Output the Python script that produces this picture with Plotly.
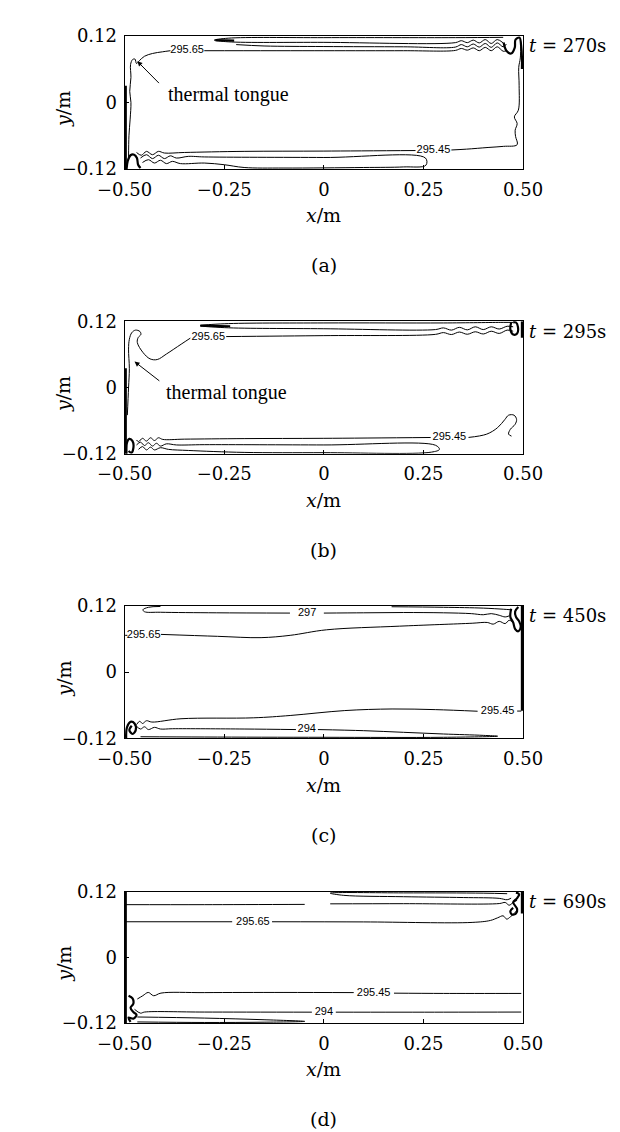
import plotly.graph_objects as go

# ---------------- data ----------------
PANEL_TIMES = ["270s", "295s", "450s", "690s"]
PANEL_CAPTIONS = ["(a)", "(b)", "(c)", "(d)"]
X_TICK_VALUES = [-0.5, -0.25, 0, 0.25, 0.5]
X_TICK_LABELS = ["\u22120.50", "\u22120.25", "0", "0.25", "0.50"]
Y_TICK_VALUES = [-0.12, 0, 0.12]
Y_TICK_LABELS = ["\u22120.12", "0", "0.12"]
X_RANGE = [-0.5, 0.5]
Y_RANGE = [-0.12, 0.12]

# ---- panel (a) t = 270 s ----
A_L1_X = [-0.49, -0.489, -0.486, -0.484, -0.487, -0.484, -0.485, -0.48, -0.474, -0.47, -0.463, -0.45, -0.43, -0.405, -0.385,
          None, -0.300, 0.0, 0.2, 0.33, 0.345, 0.36, 0.375, 0.39, 0.405, 0.42, 0.435, 0.45, 0.458]
A_L1_Y = [-0.10, -0.06, -0.03, 0.0, 0.02, 0.045, 0.068, 0.077, 0.078, 0.07, 0.075, 0.083, 0.088, 0.091, 0.093,
          None, 0.093, 0.093, 0.093, 0.0935, 0.097, 0.094, 0.098, 0.093, 0.099, 0.093, 0.1, 0.092, 0.093]
A_L2_X = [-0.22, -0.15, 0.0, 0.2, 0.33, 0.345, 0.36, 0.375, 0.39, 0.405, 0.42, 0.435, 0.45, 0.458]
A_L2_Y = [0.104, 0.1015, 0.1005, 0.1, 0.0995, 0.104, 0.1, 0.105, 0.0995, 0.106, 0.099, 0.107, 0.1, 0.105]
A_L3_X = [0.45, 0.33, 0.0, -0.24, -0.275, -0.24, 0.0, 0.33, 0.345, 0.36, 0.375, 0.39, 0.405, 0.42, 0.435, 0.45]
A_L3_Y = [0.117, 0.1165, 0.1165, 0.1155, 0.112, 0.109, 0.108, 0.1075, 0.111, 0.1075, 0.112, 0.107, 0.113, 0.106, 0.113, 0.107]
A_L4_X = [0.494, 0.493, 0.489, 0.49, 0.488, 0.478, 0.485, 0.48, 0.481, 0.485, 0.451, 0.412, 0.358, 0.32,
          None, 0.23, 0.0, -0.2, -0.35, -0.4, -0.415, -0.43, -0.445, -0.458, -0.47]
A_L4_Y = [0.11, 0.08, 0.063, 0.03, -0.014, -0.026, -0.038, -0.05, -0.061, -0.076, -0.079, -0.081, -0.084, -0.0855,
          None, -0.0865, -0.0875, -0.088, -0.09, -0.091, -0.088, -0.094, -0.088, -0.095, -0.09]
A_L5_X = [-0.46, -0.445, -0.43, -0.415, -0.4, -0.385, -0.37, -0.34, -0.3, 0.0, 0.255, 0.256, 0.2, 0.1, -0.1, -0.2,
          -0.25, -0.3, -0.36, -0.38, -0.395, -0.41, -0.425, -0.44, -0.455]
A_L5_Y = [-0.1, -0.094, -0.101, -0.095, -0.101, -0.096, -0.1, -0.097, -0.098, -0.099, -0.1, -0.113, -0.116, -0.117,
          -0.118, -0.117, -0.112, -0.109, -0.11, -0.106, -0.11, -0.104, -0.109, -0.103, -0.108]
A_K1_X = [-0.272, -0.225]
A_K1_Y = [0.112, 0.111]
A_K2_X = [0.451, 0.458, 0.47, 0.479, 0.481, 0.491, 0.495, 0.497, 0.497]
A_K2_Y = [0.1076, 0.093, 0.088, 0.0987, 0.113, 0.1165, 0.102, 0.081, 0.06]
A_K3_X = [-0.497, -0.497]
A_K3_Y = [-0.12, 0.03]
A_K4_X = [-0.495, -0.492, -0.485, -0.476, -0.469, -0.466, -0.46]
A_K4_Y = [-0.12, -0.105, -0.095, -0.094, -0.1, -0.112, -0.118]
A_LABEL_TEXT = ["295.65", "295.45"]
A_LABEL_X = [-0.343, 0.275]
A_LABEL_Y = [0.093, -0.086]

# ---- panel (b) t = 295 s ----
B_L1_X = [-0.493, -0.49, -0.488, -0.49, -0.488, -0.482, -0.4726, -0.4616, -0.459, -0.466, -0.468, -0.454, -0.436, -0.418,
          -0.395, -0.358, -0.335, None, -0.245, 0.0, 0.28, 0.3, 0.32, 0.34, 0.36, 0.38, 0.4, 0.42, 0.44, 0.46, 0.475]
B_L1_Y = [-0.05, 0.0, 0.034, 0.0696, 0.0874, 0.0993, 0.104, 0.1016, 0.0963, 0.0904, 0.0815, 0.0637, 0.0519, 0.0507,
          0.0607, 0.0785, 0.0895, None, 0.0923, 0.094, 0.0963, 0.0995, 0.096, 0.1005, 0.0965, 0.101, 0.097, 0.102, 0.098, 0.104, 0.102]
B_L2_X = [0.475, 0.45, 0.3, 0.0, -0.25, -0.31, -0.25, 0.0, 0.28, 0.3, 0.32, 0.34, 0.36, 0.38, 0.4, 0.42, 0.44, 0.46, 0.475]
B_L2_Y = [0.118, 0.118, 0.117, 0.117, 0.1155, 0.112, 0.1085, 0.1065, 0.105, 0.108, 0.104, 0.109, 0.1045, 0.11, 0.105, 0.11, 0.106, 0.111, 0.11]
B_L3_X = [0.4708, 0.4635, 0.468, 0.4799, 0.4836, 0.4772, 0.4635, 0.4543, 0.436, 0.4087, 0.363,
          None, 0.268, 0.0, -0.2, -0.35, -0.404, -0.415, -0.425, -0.435, -0.445, -0.455, -0.465, -0.47]
B_L3_Y = [-0.088, -0.0844, -0.0756, -0.0667, -0.0578, -0.0501, -0.0501, -0.0578, -0.0726, -0.0844, -0.0904,
          None, -0.0905, -0.092, -0.0925, -0.0935, -0.094, -0.091, -0.096, -0.091, -0.097, -0.092, -0.098, -0.095]
B_L4_X = [-0.47, -0.46, -0.45, -0.44, -0.43, -0.42, -0.41, -0.395, -0.37, -0.3, 0.0, 0.28, 0.29, 0.27, 0.0, -0.2,
          -0.34, -0.39, -0.41, -0.425, -0.435, -0.445, -0.455, -0.465]
B_L4_Y = [-0.104, -0.099, -0.105, -0.1, -0.106, -0.101, -0.106, -0.102, -0.104, -0.1035, -0.104, -0.1045, -0.112,
          -0.117, -0.118, -0.1175, -0.114, -0.112, -0.109, -0.113, -0.108, -0.113, -0.107, -0.112]
B_K1_X = [-0.31, -0.235]
B_K1_Y = [0.112, 0.111]
B_K2_X = [0.47, 0.468, 0.475, 0.485, 0.487, 0.482, 0.475]
B_K2_Y = [0.118, 0.105, 0.096, 0.098, 0.11, 0.118, 0.118]
B_K3_X = [0.497, 0.497]
B_K3_Y = [0.12, 0.09]
B_K4_X = [-0.497, -0.497]
B_K4_Y = [-0.12, 0.035]
B_K5_X = [-0.495, -0.494, -0.488, -0.48, -0.478, -0.483, -0.49]
B_K5_Y = [-0.12, -0.1, -0.093, -0.097, -0.11, -0.118, -0.115]
B_LABEL_TEXT = ["295.65", "295.45"]
B_LABEL_X = [-0.29, 0.315]
B_LABEL_Y = [0.0904, -0.0904]

# ---- panel (c) t = 450 s ----
C_L1_X = [-0.41, -0.44, -0.454, -0.45, -0.41, -0.27, -0.085, None, 0.0, 0.1, 0.2, 0.3, 0.37, 0.4, 0.42, 0.44, 0.455, 0.465]
C_L1_Y = [0.119, 0.1175, 0.113, 0.1095, 0.1085, 0.1075, 0.107, None, 0.107, 0.1075, 0.108, 0.1075, 0.106, 0.104, 0.106, 0.103, 0.1, 0.102]
C_L2_X = [0.17, 0.3, 0.4, 0.45, 0.47]
C_L2_Y = [0.1185, 0.1175, 0.116, 0.114, 0.113]
C_L3_X = [-0.4985, -0.493, None, -0.4087, -0.267, -0.1575, -0.0845, 0.0068, 0.1895, 0.3721, 0.41, 0.425, 0.44, 0.455, 0.465, 0.475]
C_L3_Y = [0.0667, 0.0667, None, 0.0684, 0.0649, 0.0625, 0.0667, 0.0767, 0.0833, 0.0886, 0.09, 0.087, 0.092, 0.088, 0.094, 0.09]
C_L4_X = [0.4954, 0.485, None, 0.3858, 0.2808, 0.1712, 0.0525, -0.0845, -0.1758, -0.3584, -0.4315, -0.445, -0.455, -0.462, -0.47]
C_L4_Y = [-0.0705, -0.0705, None, -0.0708, -0.0679, -0.0667, -0.0696, -0.0785, -0.0827, -0.0844, -0.0904, -0.088, -0.093, -0.089, -0.095]
C_L5_X = [-0.47, -0.46, -0.45, -0.44, -0.425, -0.41, -0.38, -0.2, -0.07, None, -0.015, 0.1, 0.2, 0.3, 0.4, 0.436, 0.3, 0.0, -0.3, -0.46]
C_L5_Y = [-0.098, -0.103, -0.099, -0.104, -0.1, -0.103, -0.1025, -0.103, -0.104, None, -0.104, -0.106, -0.109, -0.112, -0.1145,
          -0.116, -0.118, -0.118, -0.1175, -0.117]
C_K1_X = [0.497, 0.497]
C_K1_Y = [0.12, -0.07]
C_K2_X = [0.47, 0.468, 0.475, 0.48, 0.488, 0.494, 0.49, 0.482, 0.48, 0.488]
C_K2_Y = [0.115, 0.1, 0.09, 0.078, 0.074, 0.082, 0.092, 0.1, 0.11, 0.118]
C_K3_X = [-0.496, -0.494, -0.485, -0.475, -0.472, -0.48, -0.488, -0.482]
C_K3_Y = [-0.12, -0.1, -0.09, -0.093, -0.105, -0.112, -0.105, -0.097]
C_LABEL_TEXT = ["297", "295.65", "295.45", "294"]
C_LABEL_X = [-0.042, -0.452, 0.436, -0.043]
C_LABEL_Y = [0.107, 0.0667, -0.0708, -0.104]

# ---- panel (d) t = 690 s ----
D_L1_X = [-0.497, -0.3, -0.048, None, 0.016, 0.2, 0.44, 0.455, 0.465, 0.475, 0.485]
D_L1_Y = [0.096, 0.096, 0.0965, None, 0.0975, 0.0978, 0.098, 0.1, 0.095, 0.1, 0.104]
D_L2_X = [0.46, 0.4, 0.2, 0.016, 0.05, 0.2, 0.35, 0.44, 0.46, 0.47]
D_L2_Y = [0.116, 0.117, 0.1175, 0.117, 0.113, 0.1105, 0.109, 0.1075, 0.105, 0.108]
D_L3_X = [-0.497, -0.23, None, -0.13, 0.1, 0.372, 0.418, 0.436, 0.4498, 0.4589, 0.468, 0.4772, 0.485]
D_L3_Y = [0.0648, 0.0648, None, 0.0648, 0.0645, 0.0636, 0.0672, 0.072, 0.0756, 0.0696, 0.0738, 0.0798, 0.086]
D_L4_X = [0.4954, 0.3, 0.176, None, 0.075, -0.1, -0.3, -0.4087, -0.427, -0.4406, -0.4543, -0.468]
D_L4_Y = [-0.066, -0.066, -0.0655, None, -0.0645, -0.0642, -0.0645, -0.0654, -0.0702, -0.0642, -0.0702, -0.0762]
D_L5_X = [-0.475, -0.46, -0.45, -0.3, -0.03, None, 0.03, 0.3, 0.4954]
D_L5_Y = [-0.095, -0.102, -0.1, -0.1, -0.1002, None, -0.1002, -0.1002, -0.1]
D_L6_X = [-0.468, -0.3, -0.15, -0.048, -0.15, -0.3, -0.468]
D_L6_Y = [-0.109, -0.111, -0.114, -0.117, -0.1185, -0.119, -0.118]
D_K1_X = [-0.497, -0.497]
D_K1_Y = [-0.12, 0.12]
D_K2_X = [0.475, 0.468, 0.472, 0.482, 0.485, 0.48, 0.475, 0.485, 0.49, 0.482]
D_K2_Y = [0.09, 0.084, 0.078, 0.08, 0.088, 0.094, 0.1, 0.108, 0.115, 0.118]
D_K3_X = [-0.49, -0.48, -0.478, -0.485, -0.478, -0.47, -0.478, -0.49, -0.485]
D_K3_Y = [-0.07, -0.075, -0.085, -0.092, -0.1, -0.105, -0.112, -0.11, -0.118]
D_K4_X = [0.497, 0.497]
D_K4_Y = [0.12, 0.08]
D_LABEL_TEXT = ["295.65", "295.45", "294"]
D_LABEL_X = [-0.178, 0.125, 0.0]
D_LABEL_Y = [0.0648, -0.0654, -0.1002]

PANELS = [
    dict(thin=[(A_L1_X, A_L1_Y), (A_L2_X, A_L2_Y), (A_L3_X, A_L3_Y), (A_L4_X, A_L4_Y), (A_L5_X, A_L5_Y)],
         thick=[(A_K1_X, A_K1_Y), (A_K2_X, A_K2_Y), (A_K3_X, A_K3_Y), (A_K4_X, A_K4_Y)],
         labels=(A_LABEL_TEXT, A_LABEL_X, A_LABEL_Y)),
    dict(thin=[(B_L1_X, B_L1_Y), (B_L2_X, B_L2_Y), (B_L3_X, B_L3_Y), (B_L4_X, B_L4_Y)],
         thick=[(B_K1_X, B_K1_Y), (B_K2_X, B_K2_Y), (B_K3_X, B_K3_Y), (B_K4_X, B_K4_Y), (B_K5_X, B_K5_Y)],
         labels=(B_LABEL_TEXT, B_LABEL_X, B_LABEL_Y)),
    dict(thin=[(C_L1_X, C_L1_Y), (C_L2_X, C_L2_Y), (C_L3_X, C_L3_Y), (C_L4_X, C_L4_Y), (C_L5_X, C_L5_Y)],
         thick=[(C_K1_X, C_K1_Y), (C_K2_X, C_K2_Y), (C_K3_X, C_K3_Y)],
         labels=(C_LABEL_TEXT, C_LABEL_X, C_LABEL_Y)),
    dict(thin=[(D_L1_X, D_L1_Y), (D_L2_X, D_L2_Y), (D_L3_X, D_L3_Y), (D_L4_X, D_L4_Y), (D_L5_X, D_L5_Y), (D_L6_X, D_L6_Y)],
         thick=[(D_K1_X, D_K1_Y), (D_K2_X, D_K2_Y), (D_K3_X, D_K3_Y), (D_K4_X, D_K4_Y)],
         labels=(D_LABEL_TEXT, D_LABEL_X, D_LABEL_Y)),
]

# ---------------- layout ----------------
W, H = 620, 1132
BOX_LEFT, BOX_RIGHT = 96, 528
BOX_TOPS = [17, 308, 598, 889]
BOX_BOTTOMS = [153, 443, 733, 1023]
AXFONT = "DejaVu Serif"
TEXTFONT = "Liberation Serif"
SANS = "Liberation Sans"

fig = go.Figure()
layout = dict(width=W, height=H, margin=dict(l=0, r=0, t=0, b=0),
              paper_bgcolor="white", plot_bgcolor="white", showlegend=False)
annotations = []

for i, panel in enumerate(PANELS):
    xa = "x" if i == 0 else f"x{i+1}"
    ya = "y" if i == 0 else f"y{i+1}"
    for xs, ys in panel["thin"]:
        fig.add_trace(go.Scatter(x=xs, y=ys, mode="lines", xaxis=xa, yaxis=ya,
                                 line=dict(color="black", width=1, shape="spline", smoothing=1.0),
                                 connectgaps=False, hoverinfo="skip"))
    for xs, ys in panel["thick"]:
        fig.add_trace(go.Scatter(x=xs, y=ys, mode="lines", xaxis=xa, yaxis=ya,
                                 line=dict(color="black", width=2.2, shape="spline", smoothing=1.0),
                                 connectgaps=False, hoverinfo="skip"))
    txt, lx, ly = panel["labels"]
    fig.add_trace(go.Scatter(x=lx, y=ly, text=txt, mode="text", xaxis=xa, yaxis=ya,
                             textfont=dict(family=SANS, size=11, color="black"),
                             cliponaxis=False, hoverinfo="skip"))

    top, bot = BOX_TOPS[i], BOX_BOTTOMS[i]
    xkey = "xaxis" if i == 0 else f"xaxis{i+1}"
    ykey = "yaxis" if i == 0 else f"yaxis{i+1}"
    layout[xkey] = dict(domain=[BOX_LEFT / W, BOX_RIGHT / W], range=X_RANGE, anchor=ya,
                        showline=True, mirror=True, linecolor="black", linewidth=1,
                        showgrid=False, zeroline=False, ticks="inside", ticklen=4, tickcolor="black",
                        tickvals=X_TICK_VALUES, ticktext=X_TICK_LABELS, ticklabelstandoff=4,
                        tickfont=dict(family=AXFONT, size=18, color="black"), fixedrange=True)
    layout[ykey] = dict(domain=[1 - bot / H, 1 - top / H], range=Y_RANGE, anchor=xa,
                        showline=True, mirror=True, linecolor="black", linewidth=1,
                        showgrid=False, zeroline=False, ticks="inside", ticklen=4, tickcolor="black",
                        tickvals=Y_TICK_VALUES, ticktext=Y_TICK_LABELS, ticklabelstandoff=3,
                        tickfont=dict(family=AXFONT, size=18, color="black"), fixedrange=True)

    annotations.append(dict(xref="paper", yref="paper", x=532 / W, y=1 - (top + 10) / H,
                            text=f"<i>t</i> = {PANEL_TIMES[i]}", showarrow=False,
                            xanchor="left", yanchor="middle",
                            font=dict(family=AXFONT, size=18, color="black")))
    annotations.append(dict(xref="paper", yref="paper", x=30 / W, y=1 - ((top + bot) / 2 + 7) / H,
                            text="<i>y</i>/m", showarrow=False, textangle=-90,
                            xanchor="center", yanchor="middle",
                            font=dict(family=AXFONT, size=19, color="black")))
    annotations.append(dict(xref="paper", yref="paper", x=312 / W, y=1 - (bot + 47) / H,
                            text="<i>x</i>/m", showarrow=False, xanchor="center", yanchor="middle",
                            font=dict(family=AXFONT, size=19, color="black")))
    annotations.append(dict(xref="paper", yref="paper", x=312 / W, y=1 - (bot + 98) / H,
                            text=PANEL_CAPTIONS[i], showarrow=False, xanchor="center", yanchor="middle",
                            font=dict(family=AXFONT, size=19, color="black")))

# thermal tongue annotations (panels a and b)
annotations.append(dict(xref="x", yref="y", x=-0.397, y=0.014, text="thermal tongue", showarrow=False,
                        xanchor="left", yanchor="middle", font=dict(family=TEXTFONT, size=20, color="black")))
annotations.append(dict(xref="x", yref="y", x=-0.468, y=0.074, ax=-0.41, ay=0.032, axref="x", ayref="y",
                        text="", showarrow=True, arrowhead=2, arrowsize=1, arrowwidth=1, arrowcolor="black"))
annotations.append(dict(xref="x2", yref="y2", x=-0.4, y=-0.009, text="thermal tongue", showarrow=False,
                        xanchor="left", yanchor="middle", font=dict(family=TEXTFONT, size=20, color="black")))
annotations.append(dict(xref="x2", yref="y2", x=-0.475, y=0.047, ax=-0.409, ay=0.01, axref="x2", ayref="y2",
                        text="", showarrow=True, arrowhead=2, arrowsize=1, arrowwidth=1, arrowcolor="black"))

layout["annotations"] = annotations
fig.update_layout(**layout)
fig.write_html("out.html")
